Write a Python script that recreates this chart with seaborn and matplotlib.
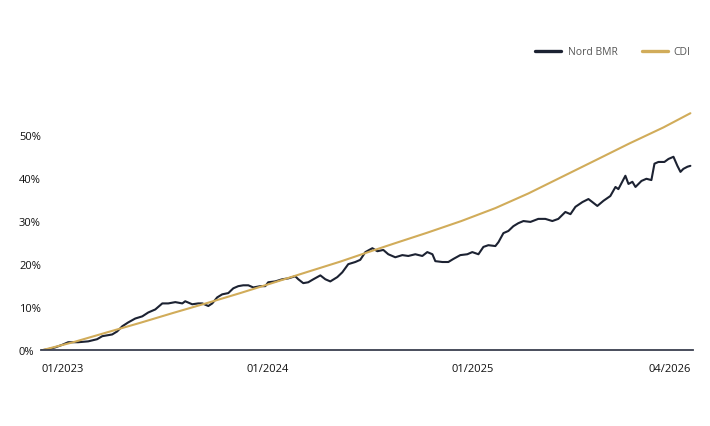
import pandas as pd
import matplotlib
matplotlib.use("Agg")
import matplotlib.pyplot as plt
import seaborn as sns

# months since 01/2023 and cumulative return (%)
nord_months = [0.00, 0.41, 0.82, 1.23, 1.58, 2.16, 2.75, 3.27, 3.57, 4.15, 4.44, 4.74,
               5.09, 5.50, 5.91, 6.26, 6.67, 7.08, 7.43, 7.84, 8.25, 8.42, 8.83, 9.18,
               9.42, 9.77, 10.00, 10.29, 10.58, 10.94, 11.23, 11.52, 11.81, 12.11, 12.40,
               12.81, 13.10, 13.27, 13.68, 14.09, 14.44, 14.85, 15.03, 15.32, 15.61, 15.91,
               16.32, 16.61, 16.90, 17.31, 17.60, 17.95, 18.36, 18.65, 18.95, 19.36, 19.65,
               20.00, 20.29, 20.70, 21.11, 21.46, 21.87, 22.28, 22.57, 22.87, 23.04, 23.45,
               23.80, 24.09, 24.50, 24.91, 25.20, 25.56, 25.85, 26.14, 26.55, 26.73, 27.02,
               27.31, 27.60, 27.89, 28.19, 28.60, 29.06, 29.47, 29.88, 30.23, 30.64, 30.94,
               31.23, 31.64, 31.99, 32.22, 32.51, 32.87, 33.27, 33.57, 33.74, 34.15, 34.33,
               34.56, 34.74, 35.09, 35.38, 35.67, 35.85, 36.08, 36.43, 36.67, 36.96, 37.19,
               37.37, 37.54, 37.78, 37.95]
nord_values = [0.0, 0.3, 0.7, 1.3, 1.9, 1.9, 2.1, 2.6, 3.3, 3.7, 4.4, 5.6,
               6.5, 7.4, 7.9, 8.8, 9.5, 10.9, 10.9, 11.2, 10.9, 11.4, 10.7, 10.9,
               10.9, 10.3, 10.9, 12.3, 13.0, 13.3, 14.4, 14.9, 15.1, 15.1, 14.6,
               14.9, 14.9, 15.8, 16.0, 16.5, 16.7, 17.2, 16.5, 15.6, 15.8, 16.5,
               17.4, 16.5, 16.0, 17.0, 18.1, 20.0, 20.5, 21.0, 22.8, 23.7, 23.0,
               23.3, 22.3, 21.6, 22.1, 21.9, 22.3, 21.9, 22.8, 22.3, 20.7, 20.5,
               20.5, 21.2, 22.1, 22.3, 22.8, 22.3, 24.0, 24.4, 24.2, 25.1, 27.2,
               27.7, 28.8, 29.5, 30.0, 29.8, 30.5, 30.5, 30.0, 30.5, 32.1, 31.6,
               33.3, 34.4, 35.1, 34.4, 33.5, 34.7, 35.8, 37.9, 37.4, 40.5, 38.6,
               39.1, 37.9, 39.3, 39.8, 39.5, 43.3, 43.7, 43.7, 44.4, 44.9, 42.8,
               41.4, 42.1, 42.6, 42.8]

cdi_months = [0.00, 1.87, 3.86, 5.79, 7.72, 9.71, 11.64, 13.57, 15.56, 17.49, 19.12,
              20.64, 22.57, 24.56, 26.55, 28.48, 30.47, 32.46, 34.39, 36.37, 37.95]
cdi_values = [0.0, 1.9, 4.2, 6.4, 8.7, 11.0, 13.3, 15.7, 18.2, 20.6, 22.8,
              24.8, 27.3, 30.0, 33.0, 36.4, 40.3, 44.2, 48.0, 51.7, 55.0]

series_names = ["Nord BMR", "CDI"]
series_colors = ["#1c2232", "#d1ac5a"]
x_tick_months = [0, 12, 24, 37.95]
x_tick_labels = ["01/2023", "01/2024", "01/2025", "04/2026"]
y_ticks = [0, 10, 20, 30, 40, 50]

df = pd.concat([
    pd.DataFrame({"month": nord_months, "value": nord_values, "serie": series_names[0]}),
    pd.DataFrame({"month": cdi_months, "value": cdi_values, "serie": series_names[1]}),
])

sns.set_theme(style="white")
plt.rcParams["font.family"] = ["Open Sans", "DejaVu Sans"]

fig = plt.figure(figsize=(7.1, 4.27), dpi=100)
ax = fig.add_axes([0.058, 0.177, 0.918, 0.606])

sns.lineplot(data=df, x="month", y="value", hue="serie", hue_order=series_names,
             palette=series_colors, linewidth=1.5, ax=ax, legend=True)

ax.set_xlim(0, 38.1)
ax.set_ylim(0, 60)
ax.set_xlabel("")
ax.set_ylabel("")

ax.set_yticks(y_ticks)
ax.set_yticklabels([f"{v}%" for v in y_ticks], fontsize=8, color="#111111")
for lab in ax.get_yticklabels():
    lab.set_ha("left")
ax.tick_params(axis="y", length=0, pad=16)

ax.set_xticks(x_tick_months)
ax.set_xticklabels(x_tick_labels, fontsize=8, color="#111111")
xl = ax.get_xticklabels()
for lab in xl[:-1]:
    lab.set_ha("left")
xl[-1].set_ha("right")
ax.tick_params(axis="x", length=0, pad=9)

for side in ["top", "right", "left"]:
    ax.spines[side].set_visible(False)
ax.spines["bottom"].set_color("#3a3f4f")
ax.spines["bottom"].set_linewidth(1.3)
ax.grid(False)

ax.legend(loc="center right", bbox_to_anchor=(0.986, 0.876), bbox_transform=fig.transFigure,
          ncol=2, frameon=False, fontsize=7.5, handlelength=2.5, handletextpad=0.6,
          columnspacing=2.3, labelcolor="#555555")
for line in ax.get_legend().get_lines():
    line.set_linewidth(2.4)

fig.savefig("out.png", dpi=100)
